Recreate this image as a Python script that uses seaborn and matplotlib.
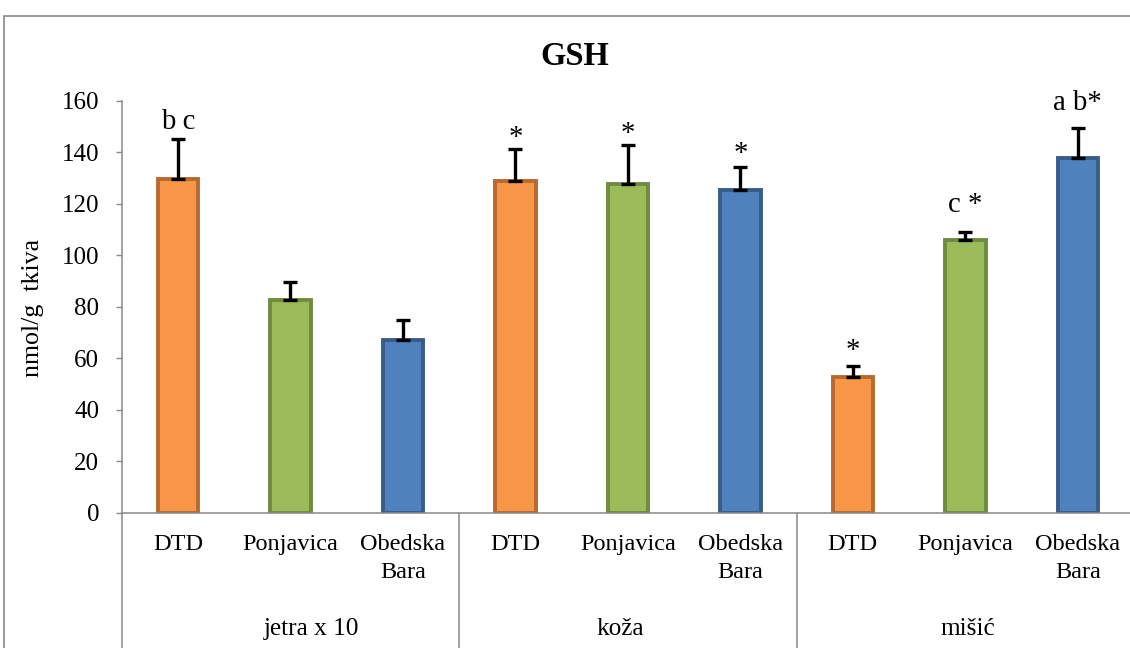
#!/usr/bin/env python3
"""GSH content per tissue and site, grouped bar chart with upper error bars."""

import matplotlib

matplotlib.use("Agg")

import matplotlib.pyplot as plt
import matplotlib.transforms as mtransforms
import numpy as np
import pandas as pd
import seaborn as sns
from matplotlib.patches import Rectangle


# data
tissues = ["jetra x 10", "koža", "mišić"]
sites = ["DTD", "Ponjavica", "Obedska Bara"]
site_tick_labels = ["DTD", "Ponjavica", "Obedska\nBara"]
gsh_mean = [129.7, 82.8, 67.1, 129.0, 127.8, 125.3, 52.6, 105.8, 137.9]
gsh_err = [15.5, 6.7, 7.8, 12.3, 15.1, 9.2, 4.4, 3.2, 11.7]
sig_labels = ["b c", "", "", "*", "*", "*", "*", "c *", "a b*"]
y_ticks = [0, 20, 40, 60, 80, 100, 120, 140, 160]

# styling
fill_colors = ["#F79646", "#9BBB59", "#4F81BD"]
edge_colors = ["#B7692F", "#728A3F", "#385D8A"]
label_gap_px = [10, 0, 0, 4, 4, 6, 8, 20, 18]
group_label_x = [1.19, 3.93, 7.02]
SERIF = ["Liberation Serif", "DejaVu Serif"]

W, H = 1130, 648


def fy(px: float) -> float:
    """pixel row (from top) -> figure fraction"""
    return 1 - px / H


def main() -> int:
    sns.set_theme(style="white")
    plt.rcParams["font.family"] = SERIF
    plt.rcParams["text.color"] = "black"
    plt.rcParams["ytick.color"] = "black"
    plt.rcParams["axes.labelcolor"] = "black"

    rows = []
    for t_idx, tissue in enumerate(tissues):
        for s_idx, site in enumerate(sites):
            k = t_idx * len(sites) + s_idx
            rows.append(
                {
                    "slot": f"{tissue}|{site}",
                    "site": site,
                    "value": gsh_mean[k],
                    "err": gsh_err[k],
                }
            )
    df = pd.DataFrame(rows)
    order = list(df["slot"])

    fig = plt.figure(figsize=(W / 100, H / 100), dpi=100)
    ax_left, ax_right = 121.7 / W, 1134 / W
    ax_bottom, ax_top = fy(512.7), fy(101)
    ax = fig.add_axes([ax_left, ax_bottom, ax_right - ax_left, ax_top - ax_bottom])

    sns.barplot(
        data=df,
        x="slot",
        y="value",
        hue="site",
        order=order,
        hue_order=sites,
        palette=fill_colors,
        saturation=1,
        dodge=False,
        width=0.36,
        errorbar=None,
        legend=False,
        ax=ax,
        zorder=2,
    )
    for container, ec in zip(ax.containers, edge_colors):
        for bar in container:
            bar.set_edgecolor(ec)
            bar.set_linewidth(2.8)

    xpos = np.arange(len(order))
    ax.errorbar(
        xpos,
        df["value"],
        yerr=[np.zeros(len(order)), df["err"]],
        fmt="none",
        ecolor="black",
        elinewidth=2.4,
        capsize=4.7,
        capthick=2.4,
        zorder=3,
    )

    for i, (lab, gap) in enumerate(zip(sig_labels, label_gap_px)):
        if not lab:
            continue
        ax.annotate(
            lab,
            xy=(i, gsh_mean[i] + gsh_err[i]),
            xytext=(0, gap * 0.72),
            textcoords="offset points",
            ha="center",
            va="baseline",
            fontsize=20.7,
            family=SERIF,
            annotation_clip=False,
        )

    ax.set_xlim(-0.5, len(order) - 0.5)
    ax.set_ylim(0, 160)
    ax.set_yticks(y_ticks)
    ax.set_yticklabels([str(v) for v in y_ticks], fontsize=18, family=SERIF)
    ax.set_xticks([])
    ax.set_xlabel("")
    ax.set_ylabel("")
    ax.tick_params(axis="y", length=4.3, width=1, color="#898989",
                   labelcolor="black", pad=12, left=True, direction="out")
    for side in ["top", "right"]:
        ax.spines[side].set_visible(False)
    for side in ["left", "bottom"]:
        ax.spines[side].set_color("#898989")
        ax.spines[side].set_linewidth(1.1)

    # multi-level category axis below the plot
    trans = mtransforms.blended_transform_factory(ax.transData, fig.transFigure)
    for i in range(len(order)):
        ax.text(i, fy(534), site_tick_labels[i % len(sites)], transform=trans,
                ha="center", va="top", fontsize=17.5, linespacing=1.42, family=SERIF)
    for gx, tissue in zip(group_label_x, tissues):
        ax.text(gx, fy(635), tissue, transform=trans, ha="center",
                va="baseline", fontsize=18.2, family=SERIF)
    seps = [-0.5 + len(sites) * g for g in range(len(tissues) + 1)]
    ax.vlines(seps, fy(512.7), 0, transform=trans, colors="#898989",
              linewidth=1.1, clip_on=False)

    fig.text(575 / W, fy(65), "GSH", ha="center", va="baseline",
             fontsize=23.5, fontweight="bold", family=SERIF)
    fig.text(33 / W, fy(308), "nmol/g  tkiva", rotation=90, ha="center",
             va="center", fontsize=18.6, family=SERIF)

    # chart-area frame (only top and left edges are inside the crop)
    fig.add_artist(Rectangle((3.5 / W, -0.2), 1.2, fy(16) + 0.2,
                             transform=fig.transFigure, fill=False,
                             edgecolor="#8a8a8a", linewidth=1.2))

    fig.savefig("out.png", dpi=100)
    plt.close(fig)
    return 0


if __name__ == "__main__":
    raise SystemExit(main())
